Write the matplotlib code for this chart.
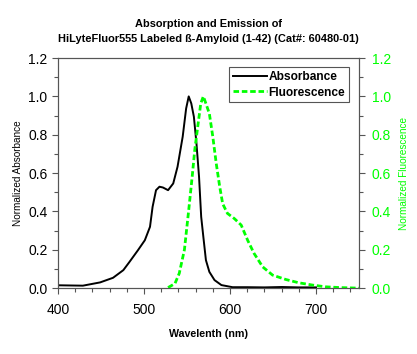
import matplotlib.pyplot as plt
from matplotlib.ticker import MultipleLocator

plt.rcParams['font.family'] = ['Liberation Sans', 'DejaVu Sans']

# absorbance spectrum
abs_wl = [400, 429, 449, 464, 476, 483, 493, 501, 507, 510, 514, 518, 522, 528,
          534, 539, 545, 549, 552, 555, 558, 561, 564, 566.5, 569, 572, 576, 582,
          590, 603, 620, 640, 660, 680, 700]
abs_val = [0.015, 0.013, 0.03, 0.054, 0.094, 0.136, 0.198, 0.25, 0.32, 0.424,
           0.511, 0.529, 0.525, 0.511, 0.546, 0.633, 0.79, 0.937, 1.0, 0.963,
           0.894, 0.755, 0.581, 0.372, 0.268, 0.146, 0.085, 0.042, 0.016, 0.005,
           0.005, 0.004, 0.006, 0.004, 0.004]

# fluorescence spectrum
fl_wl = [528, 536, 541, 547, 552, 556, 559, 563, 566, 569, 572, 576, 580, 584,
         588, 591.5, 597, 605, 613, 620.5, 628, 638, 649.5, 665, 680, 696, 711,
         728, 750]
fl_val = [0.003, 0.024, 0.077, 0.2, 0.407, 0.58, 0.72, 0.86, 0.963, 1.0, 0.963,
          0.91, 0.79, 0.65, 0.53, 0.44, 0.39, 0.363, 0.329, 0.25, 0.181, 0.111,
          0.068, 0.045, 0.028, 0.016, 0.007, 0.003, 0.0]

green = '#00ff00'

fig = plt.figure(figsize=(4.17, 3.54), dpi=100)
ax = fig.add_axes([0.139, 0.186, 0.722, 0.65])
ax2 = ax.twinx()

l1, = ax.plot(abs_wl, abs_val, color='black', lw=1.4, label='Absorbance')
l2, = ax2.plot(fl_wl, fl_val, color=green, lw=2, ls=(0, (2, 1)), label='Fluorescence')

ax.set_xlim(400, 750)
ax.set_ylim(0, 1.2)
ax2.set_ylim(0, 1.2)
ax.xaxis.set_major_locator(MultipleLocator(100))
ax.xaxis.set_minor_locator(MultipleLocator(20))
for a in (ax, ax2):
    a.yaxis.set_major_locator(MultipleLocator(0.2))
    a.yaxis.set_minor_locator(MultipleLocator(0.1))
    a.yaxis.set_major_formatter('{x:.1f}')
    a.tick_params(which='both', direction='out', length=4, width=0.8, labelsize=10)
    a.tick_params(which='minor', length=3)
    for s in a.spines.values():
        s.set_color('#555555')
ax.tick_params(axis='x', which='both', colors='#555555', labelcolor='black', pad=7)
ax.tick_params(axis='y', which='both', colors='#555555', labelcolor='black')
ax2.tick_params(axis='y', which='both', colors='#555555', labelcolor=green, pad=5)

ax.set_xlabel('Wavelenth (nm)', fontsize=7.7, fontweight='bold', labelpad=8)
ax.set_ylabel('Normalized Absorbance', fontsize=7.2, labelpad=4)
ax2.set_ylabel('Normalized Fluorescence', fontsize=7.2, color=green, labelpad=6)

fig.suptitle('Absorption and Emission of\nHiLyteFluor555 Labeled ß-Amyloid (1-42) (Cat#: 60480-01)',
             fontsize=7.9, fontweight='bold', y=0.875, va='bottom', linespacing=1.6)

leg = ax.legend(handles=[l1, l2], loc='upper right',
                prop={'weight': 'bold', 'size': 8.6}, handlelength=2.9,
                handletextpad=0.1, borderpad=0.3, labelspacing=0.3,
                fancybox=False, framealpha=1, edgecolor='#555555',
                bbox_to_anchor=(0.985, 0.985))
leg.get_frame().set_linewidth(0.8)

plt.savefig('out.png', dpi=100)
